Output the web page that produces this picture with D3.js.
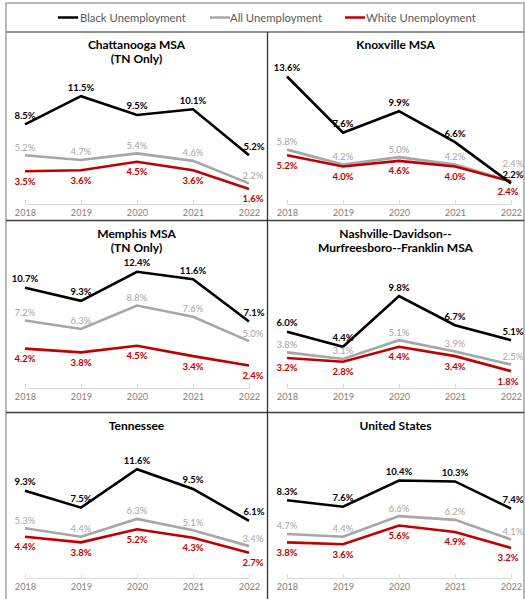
<!DOCTYPE html>
<html><head><meta charset="utf-8">
<script src="https://cdn.jsdelivr.net/npm/d3@7"></script>
<style>body{margin:0;background:#fff} svg{display:block;font-family:Lato,"Open Sans",sans-serif}</style>
</head><body>
<svg id="c" width="525" height="599"></svg>
<script>
const years = ["2018","2019","2020","2021","2022"];
const titles = [["Chattanooga MSA","(TN Only)"],["Knoxville MSA"],["Memphis MSA","(TN Only)"],["Nashville-Davidson--","Murfreesboro--Franklin MSA"],["Tennessee"],["United States"]];
const blackUnemp = [[8.5,11.5,9.5,10.1,5.2],[13.6,7.6,9.9,6.6,2.2],[10.7,9.3,12.4,11.6,7.1],[6.0,4.4,9.8,6.7,5.1],[9.3,7.5,11.6,9.5,6.1],[8.3,7.6,10.4,10.3,7.4]];
const allUnemp = [[5.2,4.7,5.4,4.6,2.2],[5.8,4.2,5.0,4.2,2.4],[7.2,6.3,8.8,7.6,5.0],[3.8,3.1,5.1,3.9,2.5],[5.3,4.4,6.3,5.1,3.4],[4.7,4.4,6.6,6.2,4.1]];
const whiteUnemp = [[3.5,3.6,4.5,3.6,1.6],[5.2,4.0,4.6,4.0,2.4],[4.2,3.8,4.5,3.4,2.4],[3.2,2.8,4.4,3.4,1.8],[4.4,3.8,5.2,4.3,2.7],[3.8,3.6,5.6,4.9,3.2]];
const seriesNames = ["Black Unemployment","All Unemployment","White Unemployment"];

const seriesStyle = [
  {data: blackUnemp, color:"#000000", label:"#000000", weight:"bold", dy:-9, lastDx:[5,2]},
  {data: allUnemp, color:"#a6a6a6", label:"#a6a6a6", weight:"normal", dy:-8, lastDx:[4,2]},
  {data: whiteUnemp, color:"#c00000", label:"#c00000", weight:"bold", dy:10, lastDx:[4,-3]}
];
// label nudges (panel, series, index, extra dy)
const nudges = [{p:1,s:1,i:4,dy:-10}];

const svg = d3.select("#c");
const cols = [{x0:25,x1:249,cx:136.5},{x0:287,x1:511,cx:395.5}];
const rows = [{top:32,base:204},{top:220.5,base:388},{top:412.5,base:578}];
const plotH = 150;

// frame
const frame = svg.append("g");
frame.append("rect").attr("x",6).attr("y",3).attr("width",518).attr("height",600)
  .attr("fill","none").attr("stroke","#8c8c8c").attr("stroke-width",1.2);
frame.append("line").attr("x1",6).attr("x2",524).attr("y1",32).attr("y2",32).attr("stroke","#6f6f6f").attr("stroke-width",1.3);
[220.5,412.5].forEach(y=>frame.append("line").attr("x1",6).attr("x2",524).attr("y1",y).attr("y2",y).attr("stroke","#404040").attr("stroke-width",1.3));
frame.append("line").attr("x1",267.5).attr("x2",267.5).attr("y1",32).attr("y2",599).attr("stroke","#303030").attr("stroke-width",1.3);

// legend
const legX = [{lx:58,tx:80},{lx:210,tx:230},{lx:345,tx:366}];
seriesNames.forEach((n,k)=>{
  const g = svg.append("g");
  g.append("line").attr("x1",legX[k].lx).attr("x2",legX[k].lx+20).attr("y1",17.5).attr("y2",17.5)
    .attr("stroke",seriesStyle[k].color).attr("stroke-width",2.5);
  g.append("text").attr("x",legX[k].tx).attr("y",21.5).attr("font-size",11.3).attr("fill","#595959").text(n);
});

titles.forEach((t,p)=>{
  const col = p%2;
  const c = cols[col], r = rows[Math.floor(p/2)];
  const x = d3.scalePoint().domain(years).range([c.x0,c.x1]);
  const y = d3.scaleLinear().domain([0,16]).range([r.base, r.base-plotH]);
  const g = svg.append("g");

  // axis
  const ax = g.append("g").attr("transform",`translate(0,${r.base})`)
    .call(d3.axisBottom(x).tickSizeInner(-4).tickSizeOuter(0).tickPadding(5));
  ax.select(".domain").attr("stroke","#d9d9d9");
  ax.selectAll(".tick line").attr("stroke","#d9d9d9");
  ax.selectAll(".tick text").attr("fill","#7f7f7f").attr("font-size",9.2).attr("font-family","Lato,sans-serif");

  // title
  t.forEach((line,li)=>{
    g.append("text").attr("x",c.cx).attr("y",r.top+17+li*14).attr("text-anchor","middle")
      .attr("font-size",12).attr("font-weight","bold").attr("fill","#000").text(line);
  });

  // lines: gray, red, then black on top
  [1,2,0].forEach(s=>{
    const st = seriesStyle[s];
    g.append("path").datum(st.data[p])
      .attr("fill","none").attr("stroke",st.color).attr("stroke-width",2.6).attr("stroke-linejoin","miter")
      .attr("d",d3.line().x((d,i)=>x(years[i])).y(d=>y(d)));
  });
  seriesStyle.forEach((st,s)=>{
    g.selectAll(null).data(st.data[p]).enter().append("text")
      .attr("x",(d,i)=>x(years[i]) + (i===4?st.lastDx[col]:0))
      .attr("y",(d,i)=>{
        let extra = 0;
        nudges.forEach(n=>{ if(n.p===p&&n.s===s&&n.i===i) extra+=n.dy; });
        return y(d)+st.dy+extra+3.4;
      })
      .attr("text-anchor","middle").attr("font-size",9.5).attr("font-weight",st.weight)
      .attr("fill",st.label).text(d=>d.toFixed(1)+"%");
  });
});
</script>
</body></html>
